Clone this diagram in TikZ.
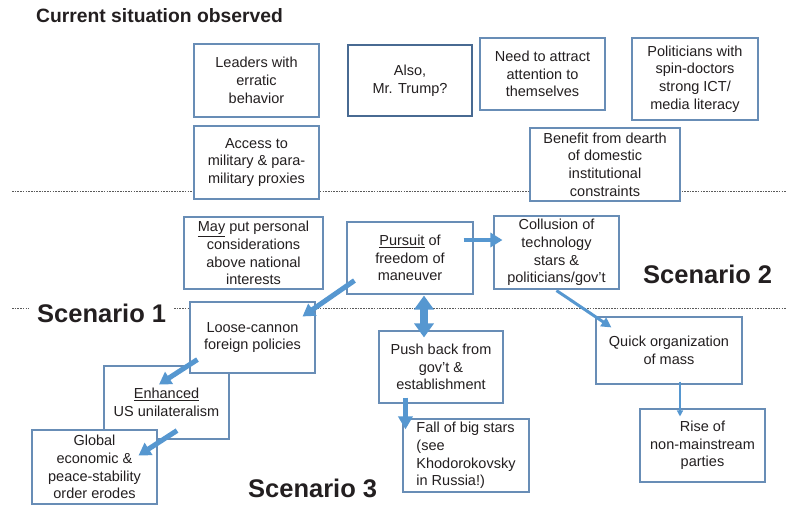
\documentclass[tikz,border=0pt]{standalone}
\usepackage{fontspec}
\setmainfont{Liberation Sans}
\usepackage{tikz}
\usetikzlibrary{arrows.meta, positioning}

\definecolor{boxblue}{RGB}{104,141,182}
\definecolor{trumpblue}{RGB}{72,106,146}
\definecolor{arrowblue}{RGB}{86,151,208}
\definecolor{textgray}{RGB}{35,31,32}
\definecolor{linegray}{RGB}{90,90,90}

\begin{document}
\begin{tikzpicture}[
    x=1pt, y=-1pt,
    box/.style={draw=boxblue, line width=1.1pt, fill=white, align=center, inner sep=2pt, minimum width=125pt, minimum height=73pt, text=textgray, font=\fontsize{14.5}{17.7}\selectfont},
    heading/.style={text=textgray, font=\bfseries\fontsize{19.3}{22}\selectfont, inner sep=0pt},
    scenario/.style={text=textgray, font=\bfseries\fontsize{25.5}{30}\selectfont, inner sep=0pt},
    divider/.style={draw=linegray, line width=0.7pt, dash pattern=on 1.6pt off 1.1pt},
    arrow/.style={draw=arrowblue, line width=5pt, -{Triangle[length=12pt,width=14pt]}},
    thinarrow/.style={draw=arrowblue, line width=1.3pt, -{Triangle[length=6pt,width=6pt]}}
]
\useasboundingbox (0,0) rectangle (792,506);

\node[heading, anchor=base west] (current) at (36,22) {Current situation observed};

\draw[divider] (12,191) -- (786,191);
\draw[divider] (12,308) -- (786,308);

\node[scenario, anchor=base west, fill=white, inner xsep=8pt] (scen1) at (29,322) {Scenario 1};
\node[scenario, anchor=base west] (scen2) at (643,283) {Scenario 2};
\node[scenario, anchor=base west] (scen3) at (248,497) {Scenario 3};

\node[box] (leaders) at (256.5,80.5) {Leaders with\\erratic\\behavior};
\node[box] (access) at (256.5,162.5) {Access to\\military \& para-\\military proxies};
\node[box, draw=trumpblue, line width=2.4pt, minimum width=124pt, minimum height=71pt] (trump) at (410,80.5) {Also,\\Mr. Trump?};
\node[box, minimum height=72pt] (attract) at (542.5,74) {Need to attract\\attention to\\themselves};
\node[box, minimum width=126pt, minimum height=82pt] (spin) at (695,79) {Politicians with\\spin-doctors\\strong ICT/\\media literacy};
\node[box, minimum width=150pt] (dearth) at (605,164.5) {Benefit from dearth\\of domestic\\institutional\\constraints};

\node[box, minimum width=139pt, minimum height=72pt] (personal) at (253.5,253) {\underline{May} put personal\\considerations\\above national\\interests};
\node[box, minimum width=126pt, minimum height=72pt] (pursuit) at (410,258) {\underline{Pursuit} of\\freedom of\\maneuver};
\node[box] (collusion) at (556.5,252.5) {Collusion of\\technology\\stars \&\\politicians/gov't};

\node[box] (enhanced) at (166.5,402.5) {\underline{Enhanced}\\US unilateralism};
\node[box, minimum height=71pt] (loose) at (252.5,337.5) {Loose-cannon\\foreign policies};
\node[box, minimum height=74pt] (global) at (94.5,467) {Global\\economic \&\\peace-stability\\order erodes};
\node[box, minimum width=124pt, minimum height=72pt] (pushback) at (441,367) {Push back from\\gov't \&\\establishment};
\node[box, minimum width=126pt, align=left] (fall) at (466,455.5) {Fall of big stars\\(see\\Khodorokovsky\\in Russia!)};
\node[box, minimum width=146pt, minimum height=67pt] (quick) at (669,350.5) {Quick organization\\of mass};
\node[box] (rise) at (702.5,445.5) {Rise of\\non-mainstream\\parties};

\draw[arrow] ([xshift=8pt,yshift=14pt]pursuit.south west) -- ([xshift=-13pt,yshift=-15pt]loose.north east);
\draw[arrow, line width=4.5pt] ([xshift=-10pt,yshift=18pt]pursuit.east) -- ([xshift=9pt,yshift=12.5pt]collusion.west);
\draw[arrow, line width=8pt, {Triangle[length=14pt,width=19pt]}-{Triangle[length=14pt,width=19pt]}] ([xshift=14pt,yshift=-1pt]pursuit.south) -- ([xshift=-17pt,yshift=-7pt]pushback.north);
\draw[arrow] ([xshift=8pt,yshift=14pt]loose.south west) -- ([xshift=-7.5pt,yshift=-19pt]enhanced.north);
\draw[arrow] ([xshift=10.5pt,yshift=9pt]enhanced.south) -- ([xshift=-19pt,yshift=-26pt]global.north east);
\draw[arrow, line width=5.5pt, -{Triangle[length=13pt,width=14pt]}] ([xshift=27pt,yshift=6pt]pushback.south west) -- ([xshift=3pt,yshift=-11pt]fall.north west);
\draw[arrow, line width=3pt, -{Triangle[length=10pt,width=10pt]}] ([yshift=-1pt]collusion.south) -- ([xshift=16pt,yshift=-11pt]quick.north west);
\draw[thinarrow] ([xshift=11pt,yshift=3pt]quick.south) -- ([xshift=-22.5pt,yshift=-8pt]rise.north);

\end{tikzpicture}
\end{document}
